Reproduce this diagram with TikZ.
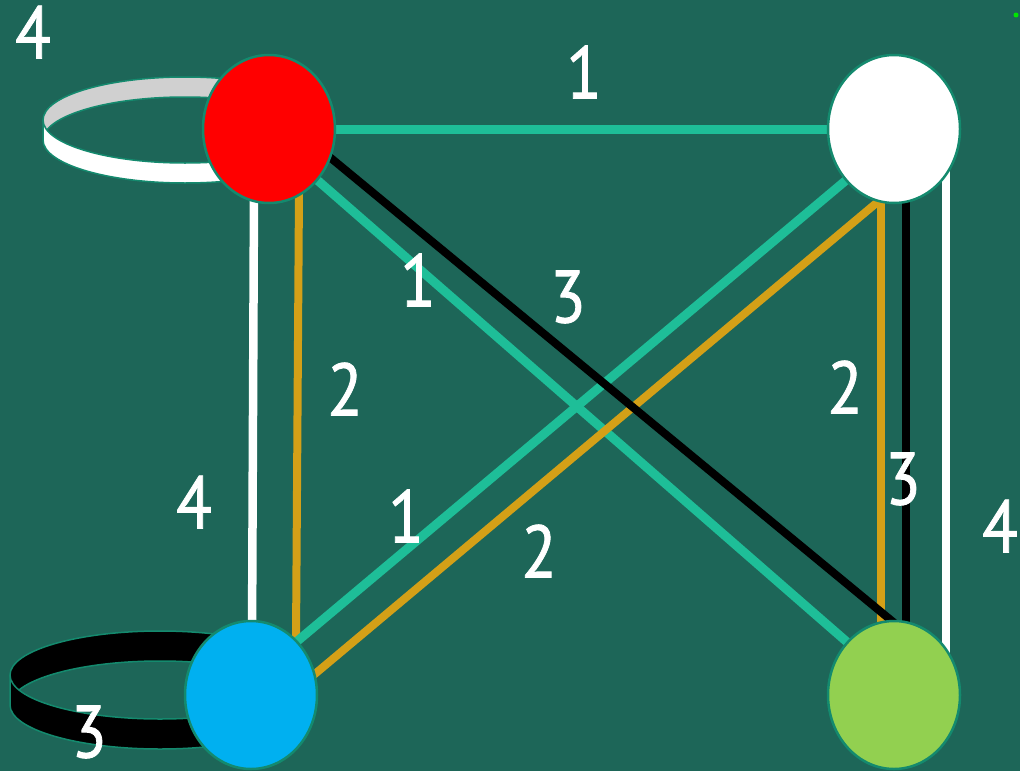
\documentclass[tikz,border=0pt]{standalone}
\usepackage{fontspec}
\setmainfont{PT Sans}
\newfontfamily\lblfont[FakeBold=1.2]{PT Sans}
\usetikzlibrary{shapes.geometric,backgrounds}
\definecolor{bg}{RGB}{29,102,88}
\definecolor{tealE}{RGB}{30,190,152}
\definecolor{rim}{RGB}{20,138,110}
\definecolor{goldE}{RGB}{212,160,23}
\definecolor{blueN}{RGB}{0,176,240}
\definecolor{greenN}{RGB}{146,208,80}
\definecolor{greyband}{RGB}{208,208,208}
\definecolor{dotgreen}{RGB}{0,230,0}
\tikzset{
  vert/.style={ellipse, draw=rim, line width=2.5pt, minimum width=132pt, minimum height=148pt, inner sep=0pt},
  edgeT/.style={draw=tealE, line width=9pt},
  edgeG/.style={draw=goldE, line width=8pt},
  edgeK/.style={draw=black, line width=8pt},
  edgeW/.style={draw=white, line width=8.5pt},
  loopline/.style={draw=rim, line width=1.5pt},
  lbl/.style={text=white, inner sep=0pt, font=\lblfont\fontsize{74}{74}\selectfont}
}
\newcommand{\dg}[1]{\scalebox{0.88}[1]{#1}}
\begin{document}
\begin{tikzpicture}[x=1pt,y=1pt]
\useasboundingbox (0,0) rectangle (1020,-771);
% nodes
\node[vert, fill=red] (r) at (269,-129) {};
\node[vert, fill=white] (w) at (894,-129) {};
\node[vert, fill=blueN] (b) at (251,-695) {};
\node[vert, fill=greenN] (g) at (894,-695) {};
\begin{scope}[on background layer]
  \fill[bg] (0,0) rectangle (1020,-771);
  % red loop (band)
  \fill[white] (43,-120) -- (43,-140) arc[start angle=180,end angle=360,x radius=142,y radius=43] -- (327,-120) arc[start angle=0,end angle=180,x radius=142,y radius=43] -- cycle;
  \fill[greyband] (185,-120) ellipse[x radius=142,y radius=43];
  \begin{scope}
    \clip (185,-120) ellipse[x radius=142,y radius=43];
    \fill[bg] (185,-140) ellipse[x radius=142,y radius=43];
    \draw[loopline] (185,-140) ellipse[x radius=142,y radius=43];
  \end{scope}
  \draw[loopline] (185,-120) ellipse[x radius=142,y radius=43];
  \draw[loopline] (43,-120) -- (43,-140) arc[start angle=180,end angle=360,x radius=142,y radius=43] -- (327,-120);
  % blue loop (band)
  \fill[black] (10,-675) -- (10,-705) arc[start angle=180,end angle=360,x radius=150,y radius=44] -- (310,-675) arc[start angle=0,end angle=180,x radius=150,y radius=44] -- cycle;
  \begin{scope}
    \clip (160,-675) ellipse[x radius=150,y radius=44];
    \fill[bg] (160,-705) ellipse[x radius=150,y radius=44];
    \draw[loopline] (160,-705) ellipse[x radius=150,y radius=44];
  \end{scope}
  \draw[loopline] (160,-675) ellipse[x radius=150,y radius=44];
  \draw[loopline] (10,-675) -- (10,-705) arc[start angle=180,end angle=360,x radius=150,y radius=44] -- (310,-675);
  % edges
  \draw[edgeT] (r.center) -- (w.center);
  \draw[edgeT] ([yshift=-9pt]r.center) -- ([yshift=12pt]g.center);
  \draw[edgeW] ([xshift=-15pt,yshift=-61pt]r.center) -- ([xshift=1pt,yshift=55pt]b.center);
  \draw[edgeG] ([xshift=30pt,yshift=-61pt]r.center) -- ([xshift=45pt,yshift=55pt]b.center);
  \draw[edgeT] ([yshift=-11pt]w.center) -- ([yshift=15pt]b.center);
  \draw[edgeG] ([xshift=-14pt,yshift=-71pt]w.center) -- ([xshift=9pt,yshift=-25pt]b.center);
  \draw[edgeG] ([xshift=-13pt,yshift=-71pt]w.center) -- ([xshift=-13pt,yshift=55pt]g.center);
  \draw[edgeK] ([xshift=12pt,yshift=-71pt]w.center) -- ([xshift=12pt,yshift=55pt]g.center);
  \draw[edgeW] ([xshift=52pt,yshift=-31pt]w.center) -- ([xshift=52pt,yshift=35pt]g.center);
  \draw[edgeK] ([yshift=22pt]r.center) -- ([xshift=4pt,yshift=69pt]g.center);
\end{scope}
% labels
\node[lbl] (l1) at (33,-32) {\dg{4}};
\node[lbl] (l2) at (584,-72) {\dg{1}};
\node[lbl] (l3) at (418,-280) {\dg{1}};
\node[lbl] (l4) at (568,-297) {\dg{3}};
\node[lbl] (l5) at (345,-389) {\dg{2}};
\node[lbl] (l6) at (845,-387) {\dg{2}};
\node[lbl] (l7) at (903,-479) {\dg{3}};
\node[lbl] (l8) at (1000,-526) {\dg{4}};
\node[lbl] (l9) at (194,-502) {\dg{4}};
\node[lbl] (l10) at (406,-516) {\dg{1}};
\node[lbl] (l11) at (539,-551) {\dg{2}};
\node[lbl] (l12) at (89,-732) {\dg{3}};
\fill[dotgreen] (1016,-15) circle (2.5);
\end{tikzpicture}
\end{document}
